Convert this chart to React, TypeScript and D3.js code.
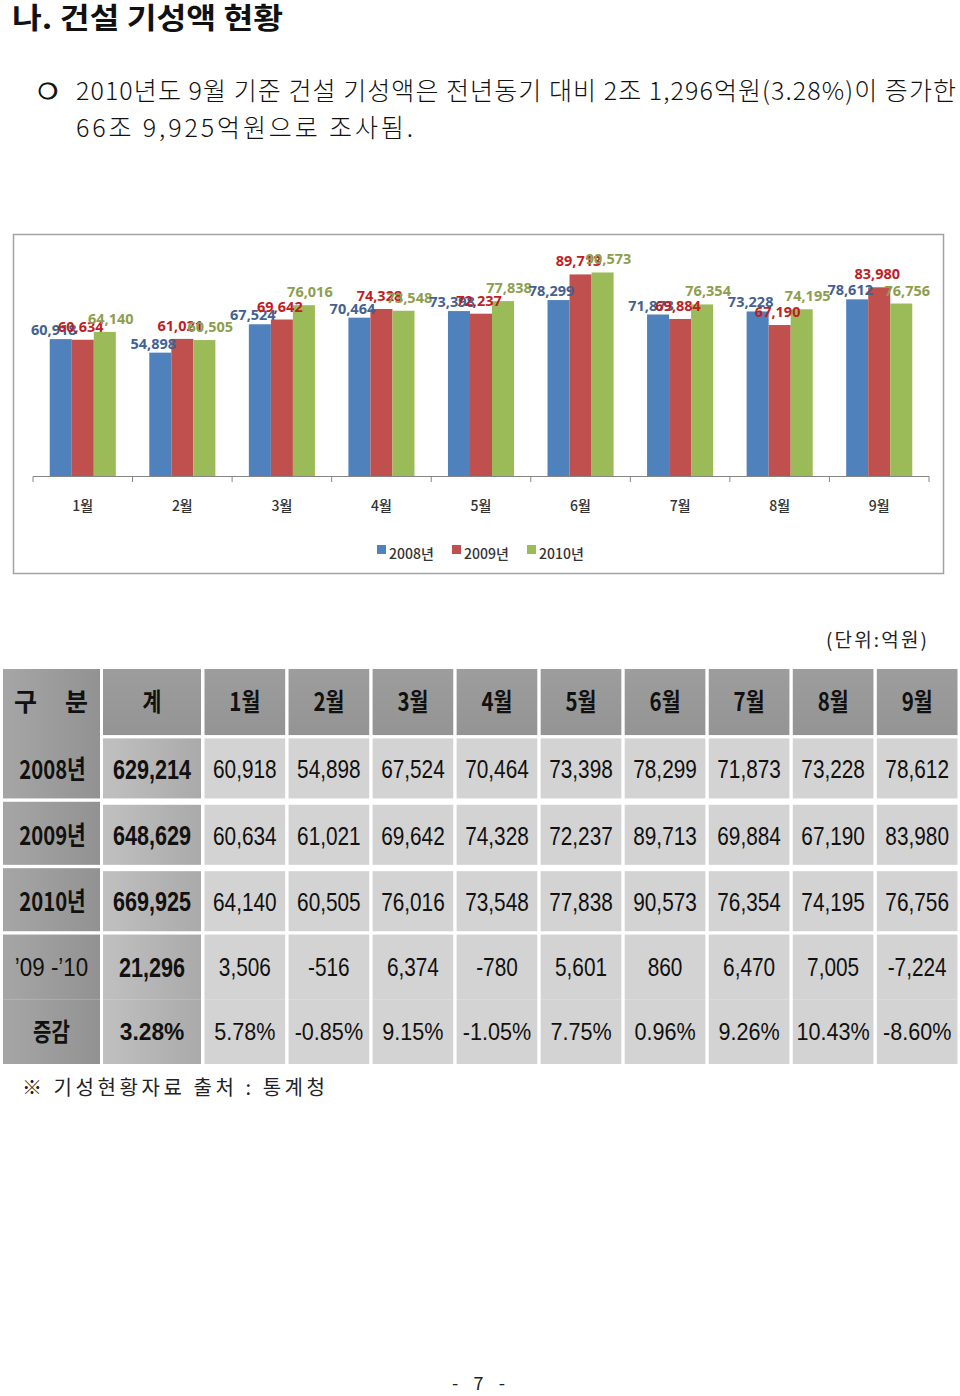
import React from 'react';
import * as d3 from 'd3';

// 월별 건설 기성액 (단위: 억원)
const months = ['1월', '2월', '3월', '4월', '5월', '6월', '7월', '8월', '9월'];
const years = ['2008년', '2009년', '2010년'];
const values2008 = [60918, 54898, 67524, 70464, 73398, 78299, 71873, 73228, 78612];
const values2009 = [60634, 61021, 69642, 74328, 72237, 89713, 69884, 67190, 83980];
const values2010 = [64140, 60505, 76016, 73548, 77838, 90573, 76354, 74195, 76756];
const rowLabels = ['2008년', '2009년', '2010년', '’09 -’10', '증감'];

const seriesValues = [values2008, values2009, values2010];
const barColors = ['#4F81BD', '#C0504D', '#9BBB59'];
const labelColors = ['#44618F', '#BE1E24', '#8D9E4F'];
// per-series nudge of the data labels (as the reference spreads them)
const labelDx = [-7, -2, 6];
const labelDy = [-4, -8, -8];

const KR = "'Noto Sans CJK KR', 'Noto Sans', sans-serif";
const NUM = "'Liberation Sans', Arial, sans-serif";

const fmt = d3.formatLocale({
  decimal: '.', thousands: ',', grouping: [3], currency: ['', ''], minus: '-',
}).format(',');

function Chart(): React.ReactElement {
  const x0 = d3.scaleBand<string>().domain(months).range([33, 929]);
  const x1 = d3.scaleBand<string>().domain(years).range([0, x0.bandwidth()]).paddingOuter(0.76);
  const y = d3.scaleLinear().domain([0, 100000]).range([476, 251.3]);
  const bounds = months.map((m) => x0(m) as number).concat([x0.range()[1]]);

  return (
    <g>
      <rect x={13.5} y={234.5} width={930} height={339} fill="#fff" stroke="#a3a3a3" strokeWidth={1.5} />
      {months.map((m, i) => (
        <g key={m} transform={`translate(${x0(m)},0)`}>
          {years.map((yr, s) => {
            const v = seriesValues[s][i];
            const bx = x1(yr) as number;
            return (
              <rect key={yr} x={bx} y={y(v)} width={x1.bandwidth()} height={y(0) - y(v)} fill={barColors[s]} />
            );
          })}
        </g>
      ))}
      {months.map((m, i) => (
        <g key={`l${m}`} transform={`translate(${x0(m)},0)`}>
          {years.map((yr, s) => {
            const v = seriesValues[s][i];
            const cx = (x1(yr) as number) + x1.bandwidth() / 2;
            return (
              <text
                key={yr}
                x={cx + labelDx[s]}
                y={y(v) + labelDy[s]}
                textAnchor="middle"
                fontFamily="'Noto Sans', sans-serif"
                fontWeight={700}
                fontSize={14.5}
                fill={labelColors[s]}
              >
                {fmt(v)}
              </text>
            );
          })}
        </g>
      ))}
      <line x1={x0.range()[0]} x2={x0.range()[1]} y1={476.5} y2={476.5} stroke="#868686" />
      {bounds.map((bx) => (
        <line key={bx} x1={bx} x2={bx} y1={476.5} y2={482} stroke="#868686" />
      ))}
      {months.map((m) => (
        <text
          key={`t${m}`}
          x={(x0(m) as number) + x0.bandwidth() / 2}
          y={511}
          textAnchor="middle"
          fontFamily={KR}
          fontWeight={500}
          fontSize={14}
          fill="#333"
        >
          {m}
        </text>
      ))}
      {years.map((yr, s) => (
        <g key={`lg${yr}`} transform={`translate(${377 + s * 75},0)`}>
          <rect x={0} y={545} width={9} height={9} fill={barColors[s]} />
          <text x={12} y={559} fontFamily={KR} fontWeight={500} fontSize={14} fill="#333">{yr}</text>
        </g>
      ))}
    </g>
  );
}

function Table(): React.ReactElement {
  const rowKeys = ['head', 'r0', 'r1', 'r2', 'diff', 'rate'];
  const ry = d3.scaleBand<string>().domain(rowKeys).range([669, 1064]).paddingInner(0.05);
  const mx = d3.scaleBand<string>().domain(months).range([204.5, 957.5]).paddingInner(0.04);
  const col0 = { x: 3, w: 97 };
  const col1 = { x: 103, w: 98 };
  const bw = ry.bandwidth();

  const totals = seriesValues.map((vs) => d3.sum(vs));
  const diffs = months.map((_, i) => values2010[i] - values2009[i]);
  const diffTotal = totals[2] - totals[1];
  const rates = months.map((_, i) => (diffs[i] / values2009[i]) * 100);
  const rateTotal = (diffTotal / totals[1]) * 100;

  const rowTop = (k: string) => ry(k) as number;
  const rowMid = (k: string) => rowTop(k) + bw / 2;

  const numText = (
    key: string, cx: number, cy: number, txt: string, bold: boolean, size = 26, sx = 0.8,
  ) => (
    <text
      key={key}
      transform={`translate(${cx},${cy + size * 0.36}) scale(${sx},1)`}
      textAnchor="middle"
      fontFamily={NUM}
      fontWeight={bold ? 700 : 400}
      fontSize={size}
      fill="#111"
    >
      {txt}
    </text>
  );
  const krText = (key: string, cx: number, cy: number, txt: string, size = 25, sx = 0.82) => (
    <text
      key={key}
      transform={`translate(${cx},${cy + size * 0.37}) scale(${sx},1)`}
      textAnchor="middle"
      fontFamily={KR}
      fontWeight={700}
      fontSize={size}
      fill="#111"
    >
      {txt}
    </text>
  );

  const dataRows = ['r0', 'r1', 'r2'];
  const diffTop = rowTop('diff');
  const blockH = rowTop('rate') + bw - diffTop;

  return (
    <g>
      <defs>
        <linearGradient id="gFirst" x1="0" x2="1" y1="0" y2="0">
          <stop offset="0" stopColor="#a6a6a6" />
          <stop offset="1" stopColor="#929292" />
        </linearGradient>
        <linearGradient id="gTotal" x1="0" x2="1" y1="0" y2="0">
          <stop offset="0" stopColor="#c0c0c0" />
          <stop offset="1" stopColor="#aaaaaa" />
        </linearGradient>
        <linearGradient id="gHead" x1="0" x2="0" y1="0" y2="1">
          <stop offset="0" stopColor="#9d9d9d" />
          <stop offset="1" stopColor="#949494" />
        </linearGradient>
      </defs>

      {/* header row */}
      <rect x={col0.x} y={rowTop('head')} width={col0.w} height={rowTop('r0') + bw - rowTop('head')} fill="url(#gFirst)" />
      <rect x={col1.x} y={rowTop('head')} width={col1.w} height={bw + 3} fill="url(#gHead)" />
      {months.map((m) => (
        <rect key={`h${m}`} x={mx(m)} y={rowTop('head')} width={mx.bandwidth()} height={bw + 3} fill="url(#gHead)" />
      ))}
      <text
        x={14}
        y={rowMid('head') + 1.5 + 25 * 0.37}
        textLength={74}
        lengthAdjust="spacing"
        fontFamily={KR}
        fontWeight={700}
        fontSize={25}
        fill="#111"
      >
        구 분
      </text>
      {krText('h-total', col1.x + col1.w / 2, rowMid('head') + 1.5, '계')}
      {months.map((m) => krText(`ht${m}`, (mx(m) as number) + mx.bandwidth() / 2, rowMid('head') + 1.5, m))}

      {/* year rows */}
      {dataRows.map((k, s) => (
        <g key={k}>
          {s > 0 && <rect x={col0.x} y={rowTop(k)} width={col0.w} height={bw} fill="url(#gFirst)" />}
          <rect x={col1.x} y={rowTop(k) + 3} width={col1.w} height={bw - 3} fill="url(#gTotal)" />
          {months.map((m) => (
            <rect key={m} x={mx(m)} y={rowTop(k) + 3} width={mx.bandwidth()} height={bw - 3} fill="#d3d3d3" />
          ))}
          {krText(`yl${k}`, col0.x + col0.w / 2 + 1, rowMid(k) + 2, rowLabels[s], 26, 0.78)}
          {numText(`yt${k}`, col1.x + col1.w / 2, rowMid(k) + 2, fmt(totals[s]), true, 27, 0.8)}
          {months.map((m, i) => numText(`v${k}${m}`, (mx(m) as number) + mx.bandwidth() / 2, rowMid(k) + 2, fmt(seriesValues[s][i]), false))}
        </g>
      ))}

      {/* change rows (joined block) */}
      <rect x={col0.x} y={diffTop} width={col0.w} height={blockH} fill="url(#gFirst)" />
      <rect x={col1.x} y={diffTop} width={col1.w} height={blockH} fill="url(#gTotal)" />
      {months.map((m) => (
        <rect key={`d${m}`} x={mx(m)} y={diffTop} width={mx.bandwidth()} height={blockH} fill="#d3d3d3" />
      ))}
      <line x1={col0.x} x2={957.5} y1={rowTop('rate') - 1.5} y2={rowTop('rate') - 1.5} stroke="#fff" strokeOpacity={0.18} />
      {numText('dl', col0.x + col0.w / 2, rowMid('diff') + 1, rowLabels[3], false, 26, 0.86)}
      {numText('dt', col1.x + col1.w / 2, rowMid('diff') + 1, fmt(diffTotal), true, 27, 0.8)}
      {months.map((m, i) => numText(`dv${m}`, (mx(m) as number) + mx.bandwidth() / 2, rowMid('diff') + 1, fmt(diffs[i]), false))}
      {krText('rl', col0.x + col0.w / 2, rowMid('rate') - 1, rowLabels[4], 25, 0.8)}
      {numText('rt', col1.x + col1.w / 2, rowMid('rate') - 1, `${rateTotal.toFixed(2)}%`, true, 24, 0.95)}
      {months.map((m, i) => numText(`rv${m}`, (mx(m) as number) + mx.bandwidth() / 2, rowMid('rate') - 1, `${rates[i].toFixed(2)}%`, false, 24, 0.9))}
    </g>
  );
}

export default function App(): React.ReactElement {
  return (
    <svg
      width={960}
      height={1396}
      viewBox="0 0 960 1396"
      style={{ position: 'absolute', left: 0, top: 0, background: '#fff' }}
    >
      <rect x={0} y={0} width={960} height={1396} fill="#fff" />
      <text x={12} y={29} textLength={271} lengthAdjust="spacingAndGlyphs" fontFamily={KR} fontWeight={700} fontSize={29} fill="#111">
        나. 건설 기성액 현황
      </text>
      <text x={38} y={99} fontFamily="'DejaVu Sans', sans-serif" fontSize={22} fill="#111" stroke="#111" strokeWidth={0.9}>❍</text>
      <text x={76} y={100} textLength={880} lengthAdjust="spacing" fontFamily={KR} fontWeight={300} fontSize={25} fill="#111">
        2010년도 9월 기준 건설 기성액은 전년동기 대비 2조 1,296억원(3.28%)이 증가한
      </text>
      <text x={76} y={137} textLength={337} lengthAdjust="spacing" fontFamily={KR} fontWeight={300} fontSize={25} fill="#111">
        66조 9,925억원으로 조사됨.
      </text>

      <Chart />

      <text x={826} y={647} textLength={101} lengthAdjust="spacing" fontFamily={KR} fontSize={19} fill="#222">
        (단위:억원)
      </text>

      <Table />

      <text x={22} y={1095} textLength={303} lengthAdjust="spacing" fontFamily={KR} fontSize={20} fill="#222">
        ※ 기성현황자료 출처 : 통계청
      </text>
      <text x={452} y={1390} textLength={53} lengthAdjust="spacing" fontFamily={KR} fontSize={18} fill="#222">
        - 7 -
      </text>
    </svg>
  );
}
